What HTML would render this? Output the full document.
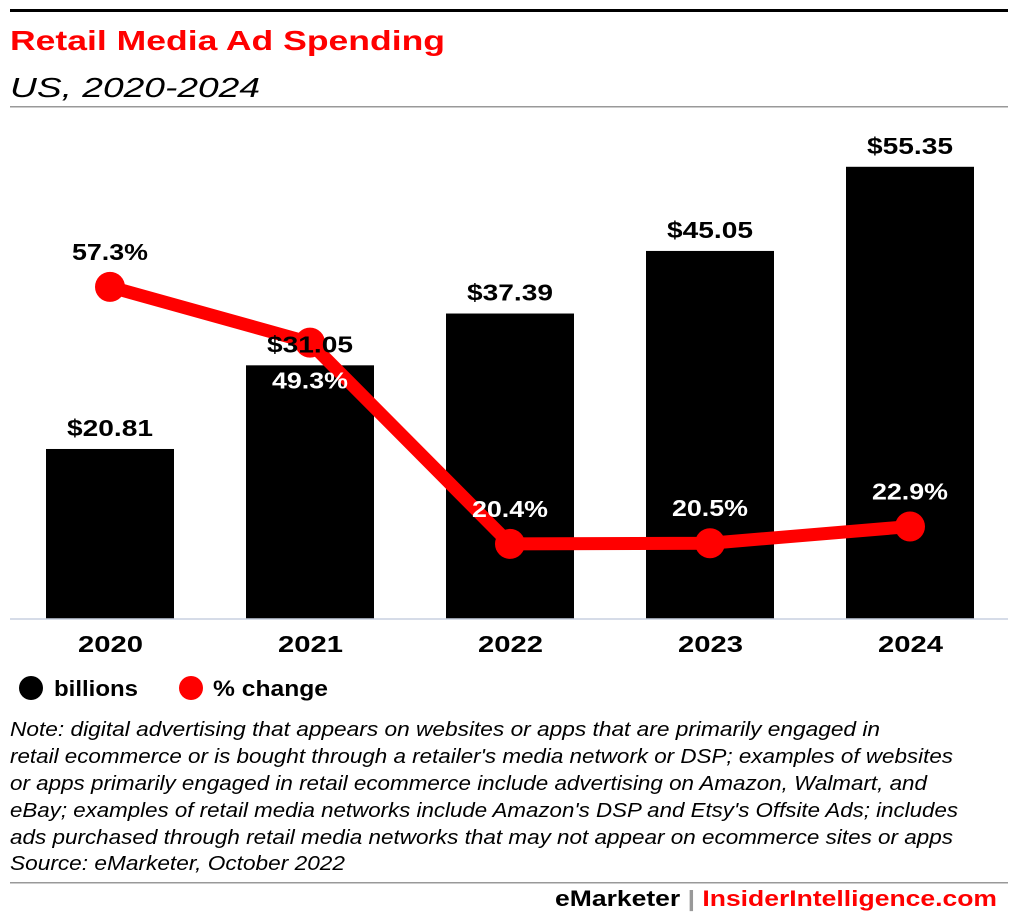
<!DOCTYPE html>
<html><head><meta charset="utf-8">
<style>
body{margin:0;background:#fff;width:1020px;height:920px;overflow:hidden;font-family:"Liberation Sans",Arial,sans-serif;}
svg{display:block}
</style></head>
<body>
<svg width="1020" height="920">
<rect x="10" y="9" width="998" height="3" fill="#000"/>
<text x="10" y="50" font-size="28" font-weight="bold" fill="#f00" textLength="435" lengthAdjust="spacingAndGlyphs">Retail Media Ad Spending</text>
<text x="10" y="97" font-size="28" font-style="italic" fill="#000" textLength="250" lengthAdjust="spacingAndGlyphs">US, 2020-2024</text>
<rect x="10" y="106" width="998" height="1.5" fill="#999"/>
<g id="bars"></g>
<line x1="10" y1="619" x2="1008" y2="619" stroke="#c8d0e0" stroke-width="1.5"/>
<g id="line"></g>
<g id="labels"></g>
<g>
<circle cx="31" cy="688" r="12" fill="#000"/>
<text x="54" y="696" font-size="22" font-weight="bold" textLength="84" lengthAdjust="spacingAndGlyphs">billions</text>
<circle cx="191" cy="688" r="12" fill="#f00"/>
<text x="213" y="696" font-size="22" font-weight="bold" textLength="115" lengthAdjust="spacingAndGlyphs">% change</text>
</g>
<g font-size="20" font-style="italic" fill="#000">
<text x="10" y="736" textLength="870" lengthAdjust="spacingAndGlyphs">Note: digital advertising that appears on websites or apps that are primarily engaged in</text>
<text x="10" y="763" textLength="943" lengthAdjust="spacingAndGlyphs">retail ecommerce or is bought through a retailer's media network or DSP; examples of websites</text>
<text x="10" y="790" textLength="917" lengthAdjust="spacingAndGlyphs">or apps primarily engaged in retail ecommerce include advertising on Amazon, Walmart, and</text>
<text x="10" y="817" textLength="948" lengthAdjust="spacingAndGlyphs">eBay; examples of retail media networks include Amazon's DSP and Etsy's Offsite Ads; includes</text>
<text x="10" y="844" textLength="943" lengthAdjust="spacingAndGlyphs">ads purchased through retail media networks that may not appear on ecommerce sites or apps</text>
<text x="10" y="870" textLength="335" lengthAdjust="spacingAndGlyphs">Source: eMarketer, October 2022</text>
</g>
<rect x="10" y="882" width="998" height="1.5" fill="#999"/>
<text x="555" y="906" font-size="22" font-weight="bold" textLength="442" lengthAdjust="spacingAndGlyphs"><tspan fill="#000">eMarketer</tspan><tspan fill="#999">  |  </tspan><tspan fill="#f00">InsiderIntelligence.com</tspan></text>
</svg>
<script>
const categories=["2020","2021","2022","2023","2024"];
const billions=[20.81,31.05,37.39,45.05,55.35];
const pctChange=[57.3,49.3,20.4,20.5,22.9];
const NS="http://www.w3.org/2000/svg";
const xC=i=>110+i*200;
const yB=v=>619-v*8.17;
const yL=v=>686-v*6.965;
function mk(t,a,p){const e=document.createElementNS(NS,t);for(const k in a)e.setAttribute(k,a[k]);p.appendChild(e);return e;}
const bg=document.getElementById('bars');
const lb=document.getElementById('labels');
const lg=document.getElementById('line');
categories.forEach((c,i)=>{
 const r=mk('rect',{x:xC(i)-64,y:yB(billions[i]),width:128,height:619-yB(billions[i]),fill:'#000'},bg);
 
 
 const x=mk('text',{x:xC(i)-32,y:652,'font-size':23,'font-weight':'bold',textLength:65,lengthAdjust:'spacingAndGlyphs'},bg);
 x.textContent=c;
 
 
});
const pl=mk('polyline',{points:pctChange.map((v,i)=>xC(i)+','+yL(v)).join(' '),fill:'none',stroke:'#f00','stroke-width':13,'stroke-linejoin':'round'},lg);


pctChange.forEach((v,i)=>{
 const c=mk('circle',{cx:xC(i),cy:yL(v),r:15,fill:'#f00'},lg);
 
 
 const below=i===1;
 const t=mk('text',{x:xC(i)-38,y:below?yL(v)+46:yL(v)-27,'font-size':23,'font-weight':'bold',textLength:76,lengthAdjust:'spacingAndGlyphs',fill:(i===0)?'#000':'#fff'},lg);
 t.textContent=v.toFixed(1)+'%';
 
 
});
categories.forEach((c,i)=>{
 const t=mk('text',{x:xC(i)-43,y:yB(billions[i])-13,'font-size':23,'font-weight':'bold',textLength:86,lengthAdjust:'spacingAndGlyphs'},lb);
 t.textContent='$'+billions[i].toFixed(2);
 
 
});
</script>
</body></html>
